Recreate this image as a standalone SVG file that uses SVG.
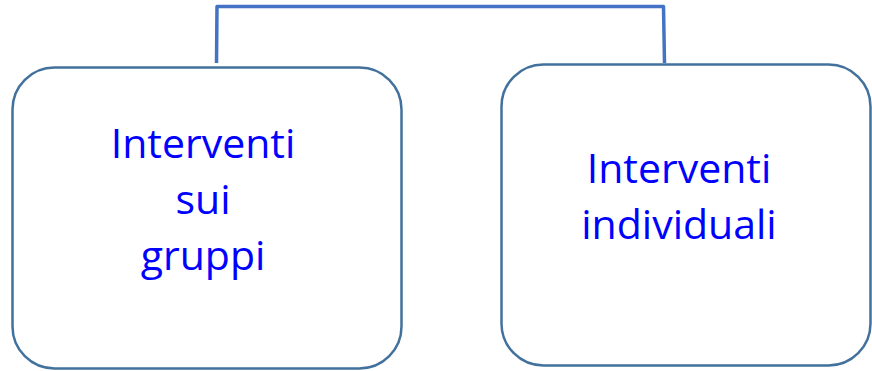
<svg xmlns="http://www.w3.org/2000/svg" width="872" height="371" viewBox="0 0 872 371">
<style>
.box{fill:#fff;stroke:#41719C;stroke-width:2.5}
.lbl{font-family:"Open Sans","Liberation Sans",sans-serif;font-size:41px;fill:#0000FF;text-anchor:middle}
.conn{fill:none;stroke:#4472C4;stroke-width:3.5;stroke-linejoin:round}
</style>
<rect width="872" height="371" fill="#fff"/>
<g id="connectors">
<path class="conn" d="M216.5 63 L217 6.5 L663.5 6.5 L664.5 63"/>
</g>
<g id="node-gruppi">
<rect class="box" x="12.5" y="67.5" width="389" height="301" rx="42" ry="42"/>
<text class="lbl" x="203" y="158">Interventi</text>
<text class="lbl" x="203" y="214">sui</text>
<text class="lbl" x="203" y="270">gruppi</text>
</g>
<g id="node-individuali">
<rect class="box" x="501.5" y="64.5" width="369" height="301" rx="42" ry="42"/>
<text class="lbl" x="679" y="183">Interventi</text>
<text class="lbl" x="679" y="239">individuali</text>
</g>
</svg>
